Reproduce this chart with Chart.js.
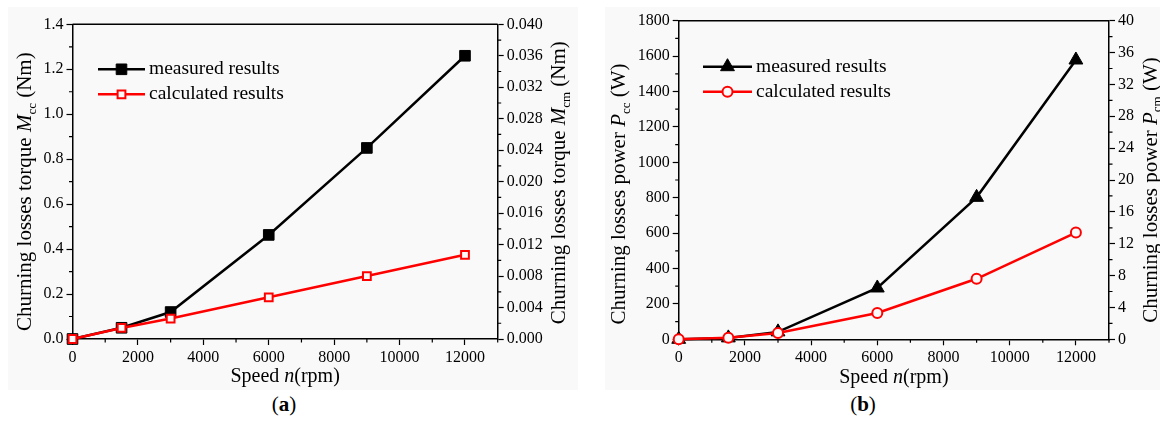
<!DOCTYPE html>
<html>
<head>
<meta charset="utf-8">
<script src="https://cdn.jsdelivr.net/npm/chart.js@4.4.1/dist/chart.umd.min.js"></script>
<style>
  html, body { margin: 0; padding: 0; background: #fff; }
  #page { position: relative; width: 1162px; height: 423px; overflow: hidden; }
  .panel { position: absolute; background: #f9f9f9; }
  .panel canvas { position: absolute; left: 0; top: 0; }
  .cap { position: absolute; top: 392px; width: 60px; text-align: center;
         font: 21px 'Liberation Serif', serif; color: #000; }
</style>
</head>
<body>
<div id="page">
  <div class="panel" style="left:8px; top:7px; width:570px; height:383px;">
    <canvas id="chartA" width="570" height="383"></canvas>
  </div>
  <div class="panel" style="left:605px; top:7px; width:555px; height:383px;">
    <canvas id="chartB" width="555" height="383"></canvas>
  </div>
  <div class="cap" style="left:254px;">(<b>a</b>)</div>
  <div class="cap" style="left:833px;">(<b>b</b>)</div>
</div>
<script>
// ── data ──
const speeds = [0, 1500, 3000, 6000, 9000, 12000];          // rpm
const torqueMeasured = [0, 0.05, 0.12, 0.463, 0.85, 1.26];    // Nm, left axis
const torqueCalculated = [0, 0.0014, 0.0026, 0.0053, 0.0080, 0.0107]; // Nm, right axis
const powerMeasured = [0, 8, 42, 290, 802, 1578];             // W, left axis
const powerCalculated = [0, 0.2, 0.8, 3.3, 7.6, 13.4];        // W, right axis

const xTicks = [0, 2000, 4000, 6000, 8000, 10000, 12000];
const seriesNames = ['measured results', 'calculated results'];

const FONT = "'Liberation Serif', 'Times New Roman', serif";
const PANEL_BG = '#f9f9f9';
const TITLE_SIZE = 21;

function pts(ys) { return speeds.map((x, i) => ({ x, y: ys[i] })); }

// ── marker drawing for the legend ──
function drawMarker(ctx, style, x, y, r, fill, stroke, bw) {
  ctx.beginPath();
  if (style === 'rect') {
    const h = r * Math.SQRT1_2;
    ctx.rect(x - h, y - h, 2 * h, 2 * h);
  } else if (style === 'triangle') {
    for (let k = 0; k < 3; k++) {
      const a = -Math.PI / 2 + k * 2 * Math.PI / 3;
      const px = x + r * Math.cos(a), py = y + r * Math.sin(a);
      k ? ctx.lineTo(px, py) : ctx.moveTo(px, py);
    }
    ctx.closePath();
  } else {
    ctx.arc(x, y, r, 0, Math.PI * 2);
  }
  ctx.fillStyle = fill; ctx.fill();
  if (bw) { ctx.lineWidth = bw; ctx.strokeStyle = stroke; ctx.stroke(); }
}

// text with italic / subscript parts, centred at (cx, cy), rotated by rot
function drawRich(ctx, parts, cx, cy, rot, size) {
  const fontOf = p => (p.it ? 'italic ' : '') + (p.sub ? Math.round(size * 0.6) : size) + 'px ' + FONT;
  let total = 0;
  parts.forEach(p => { ctx.font = fontOf(p); total += ctx.measureText(p.t).width; });
  ctx.save();
  ctx.translate(cx, cy);
  ctx.rotate(rot);
  ctx.fillStyle = '#000';
  ctx.textBaseline = 'middle';
  ctx.textAlign = 'left';
  let x = -total / 2;
  parts.forEach(p => {
    ctx.font = fontOf(p);
    ctx.fillText(p.t, x, p.sub ? size * 0.32 : 0);
    x += ctx.measureText(p.t).width;
  });
  ctx.restore();
}

// ── frame, minor ticks, titles and legend ──
const decorPlugin = {
  id: 'decor',
  afterDraw(chart, args, opts) {
    const { ctx, chartArea: a } = chart;
    ctx.save();
    ctx.strokeStyle = '#000';
    ctx.lineWidth = 1.5;
    ctx.beginPath(); ctx.moveTo(a.left, a.top); ctx.lineTo(a.right, a.top); ctx.stroke();

    // minor ticks
    ctx.lineWidth = 1.2;
    ctx.beginPath();
    Object.keys(opts.minor).forEach(id => {
      const s = chart.scales[id], step = opts.minor[id];
      for (let v = s.min + step; v <= s.max + step * 1e-6; v += 2 * step) {
        const p = s.getPixelForValue(v);
        if (id === 'x') { ctx.moveTo(p, a.bottom); ctx.lineTo(p, a.bottom + 3.5); }
        else if (id === 'y') { ctx.moveTo(a.left, p); ctx.lineTo(a.left - 3.5, p); }
        else { ctx.moveTo(a.right, p); ctx.lineTo(a.right + 3.5, p); }
      }
    });
    ctx.stroke();

    // axis titles
    const midY = (a.top + a.bottom) / 2;
    drawRich(ctx, opts.leftTitle, a.left - opts.leftOff, midY + opts.leftDy, -Math.PI / 2, TITLE_SIZE);
    drawRich(ctx, opts.rightTitle, a.right + opts.rightOff, midY + opts.rightDy, -Math.PI / 2, TITLE_SIZE);
    drawRich(ctx, [{ t: 'Speed ' }, { t: 'n', it: true }, { t: '(rpm)' }],
      (a.left + a.right) / 2, a.bottom + 38, 0, 20);

    // legend
    const L = opts.legend;
    chart.data.datasets.forEach((ds, i) => {
      const y = L.y + i * L.gap;
      ctx.strokeStyle = ds.borderColor; ctx.lineWidth = ds.borderWidth;
      ctx.beginPath(); ctx.moveTo(L.x1, y); ctx.lineTo(L.x2, y); ctx.stroke();
      drawMarker(ctx, ds.pointStyle, (L.x1 + L.x2) / 2, y, ds.pointRadius,
        ds.pointBackgroundColor, ds.pointBorderColor, ds.pointBorderWidth);
      ctx.fillStyle = '#000';
      ctx.font = '19.5px ' + FONT;
      ctx.textBaseline = 'middle';
      ctx.textAlign = 'left';
      ctx.fillText(ds.label, L.x2 + 4, y);
    });
    ctx.restore();
  }
};

function axisStyle(extra) {
  return Object.assign({
    grid: { drawOnChartArea: false, drawTicks: true, tickLength: 6, tickWidth: 1.2, tickColor: '#000' },
    border: { display: true, color: '#000', width: 1.5 },
    ticks: { color: '#000', font: { family: FONT, size: 16 }, padding: 3, autoSkip: false, maxRotation: 0 }
  }, extra);
}

function makeChart(id, cfg) {
  const xAxis = axisStyle({
    type: 'linear', min: 0, max: 13000,
    afterBuildTicks: s => { s.ticks = xTicks.map(v => ({ value: v })); },
    afterFit: s => { s.height = cfg.bottomH; }
  });
  xAxis.ticks.callback = v => String(v);

  const yAxis = axisStyle({
    position: 'left', min: 0, max: cfg.leftMax,
    afterFit: s => { s.width = cfg.leftW; }
  });
  yAxis.ticks.stepSize = cfg.leftStep;
  yAxis.ticks.callback = cfg.leftFmt;

  const y2Axis = axisStyle({
    position: 'right', min: 0, max: cfg.rightMax,
    afterFit: s => { s.width = cfg.rightW; }
  });
  y2Axis.ticks.stepSize = cfg.rightStep;
  y2Axis.ticks.callback = cfg.rightFmt;

  return new Chart(document.getElementById(id), {
    type: 'line',
    data: {
      datasets: [
        {
          label: seriesNames[0], data: pts(cfg.measured), yAxisID: 'y',
          borderColor: '#000', borderWidth: 2.5, order: 2, clip: false,
          pointStyle: cfg.mStyle, pointRadius: cfg.mRadius,
          pointBackgroundColor: '#000', pointBorderColor: '#000', pointBorderWidth: 1
        },
        {
          label: seriesNames[1], data: pts(cfg.calculated), yAxisID: 'y2',
          borderColor: '#ff0000', borderWidth: 2.5, order: 1, clip: false,
          pointStyle: cfg.cStyle, pointRadius: cfg.cRadius,
          pointBackgroundColor: PANEL_BG, pointBorderColor: '#ff0000', pointBorderWidth: 2
        }
      ]
    },
    options: {
      responsive: false,
      animation: false,
      devicePixelRatio: 1,
      events: [],
      layout: { padding: { top: cfg.topPad, left: 0, right: 0, bottom: 0 } },
      elements: { line: { tension: 0 } },
      scales: { x: xAxis, y: yAxis, y2: y2Axis },
      plugins: {
        legend: { display: false },
        tooltip: { enabled: false },
        decor: cfg.decor
      }
    },
    plugins: [decorPlugin]
  });
}

makeChart('chartA', {
  measured: torqueMeasured, calculated: torqueCalculated,
  leftMax: 1.4, leftStep: 0.2, leftFmt: v => v.toFixed(1),
  rightMax: 0.04, rightStep: 0.004, rightFmt: v => v.toFixed(3),
  leftW: 64.5, rightW: 80.3, topPad: 17.3, bottomH: 51,
  mStyle: 'rect', mRadius: 7.5, cStyle: 'rect', cRadius: 5.5,
  decor: {
    minor: { x: 1000, y: 0.1, y2: 0.002 },
    leftTitle: [{ t: 'Churning losses torque ' }, { t: 'M', it: true }, { t: 'cc', sub: true }, { t: ' (Nm)' }],
    rightTitle: [{ t: 'Churning losses torque ' }, { t: 'M', it: true }, { t: 'cm', sub: true }, { t: ' (Nm)' }],
    leftOff: 47, leftDy: 10, rightOff: 62, rightDy: 1,
    legend: { x1: 90, x2: 137, y: 62.3, gap: 25 }
  }
});

makeChart('chartB', {
  measured: powerMeasured, calculated: powerCalculated,
  leftMax: 1800, leftStep: 200, leftFmt: v => String(v),
  rightMax: 40, rightStep: 4, rightFmt: v => String(v),
  leftW: 73.7, rightW: 51, topPad: 13.7, bottomH: 50.7,
  mStyle: 'triangle', mRadius: 8, cStyle: 'circle', cRadius: 5,
  decor: {
    minor: { x: 1000, y: 100, y2: 2 },
    leftTitle: [{ t: 'Churning losses power ' }, { t: 'P', it: true }, { t: 'cc', sub: true }, { t: ' (W)' }],
    rightTitle: [{ t: 'Churning losses power ' }, { t: 'P', it: true }, { t: 'cm', sub: true }, { t: ' (W)' }],
    leftOff: 59, leftDy: 14, rightOff: 42, rightDy: 10,
    legend: { x1: 98, x2: 147, y: 59.7, gap: 25 }
  }
});
</script>
</body>
</html>
